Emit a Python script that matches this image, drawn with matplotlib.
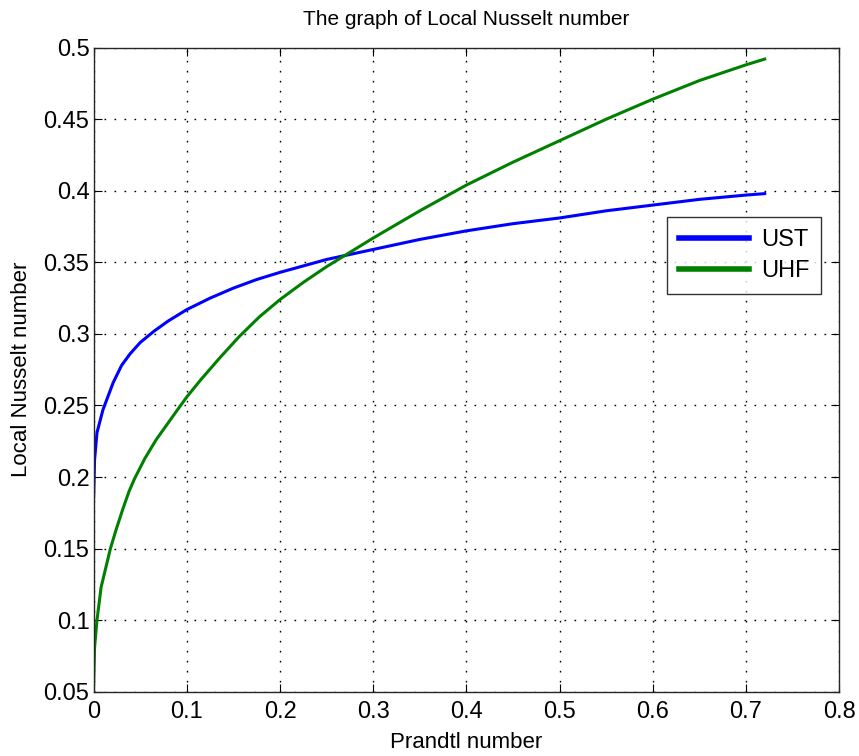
import matplotlib
matplotlib.use('Agg')
import matplotlib.pyplot as plt

plt.rcParams['font.family'] = ['Liberation Sans', 'DejaVu Sans']

# Prandtl number (x) and local Nusselt number
pr_ust = [0, 0.001, 0.0036, 0.01, 0.021, 0.03, 0.039, 0.05, 0.065, 0.08, 0.1, 0.125, 0.15, 0.175,
          0.2, 0.25, 0.3, 0.35, 0.4, 0.45, 0.5, 0.55, 0.6, 0.65, 0.7, 0.72]
nu_ust = [0.186, 0.212, 0.231, 0.247, 0.266, 0.278, 0.286, 0.294, 0.302, 0.309, 0.317, 0.325, 0.332, 0.338,
          0.343, 0.352, 0.359, 0.366, 0.372, 0.377, 0.381, 0.386, 0.39, 0.394, 0.397, 0.398]

pr_uhf = [0, 0.001, 0.0036, 0.008, 0.018, 0.024, 0.031, 0.038, 0.044, 0.055, 0.067, 0.09, 0.1, 0.115,
          0.135, 0.156, 0.178, 0.2, 0.225, 0.25, 0.3, 0.35, 0.4, 0.45, 0.5, 0.55, 0.6, 0.65, 0.7, 0.72]
nu_uhf = [0.055, 0.081, 0.1, 0.123, 0.15, 0.163, 0.177, 0.19, 0.199, 0.213, 0.226, 0.247, 0.256, 0.268,
          0.283, 0.298, 0.312, 0.324, 0.336, 0.347, 0.367, 0.386, 0.404, 0.42, 0.435, 0.45, 0.464, 0.477, 0.488, 0.492]

xticks = [0, 0.1, 0.2, 0.3, 0.4, 0.5, 0.6, 0.7, 0.8]
xtick_labels = ['0', '0.1', '0.2', '0.3', '0.4', '0.5', '0.6', '0.7', '0.8']
yticks = [0.05, 0.1, 0.15, 0.2, 0.25, 0.3, 0.35, 0.4, 0.45, 0.5]
ytick_labels = ['0.05', '0.1', '0.15', '0.2', '0.25', '0.3', '0.35', '0.4', '0.45', '0.5']

fig = plt.figure(figsize=(8.59, 7.56), dpi=100)
ax = fig.add_axes([0.109, 0.085, 0.868, 0.852])

ax.plot(pr_ust, nu_ust, color='#0000ff', lw=2.2, label='UST')
ax.plot(pr_uhf, nu_uhf, color='#008000', lw=2.2, label='UHF')

ax.set_xlim(0, 0.8)
ax.set_ylim(0.05, 0.5)
ax.set_xticks(xticks)
ax.set_xticklabels(xtick_labels)
ax.set_yticks(yticks)
ax.set_yticklabels(ytick_labels)
ax.tick_params(direction='in', length=6, width=0.8, top=True, right=True, labelsize=17, pad=3)
ax.tick_params(axis='x', pad=7)
ax.grid(True, color='black', linestyle=(0, (1.2, 6)), lw=1)
for s in ax.spines.values():
    s.set_color('#262626')
    s.set_linewidth(1)

ax.set_title('The graph of Local Nusselt number', fontsize=15, pad=16)
ax.set_xlabel('Prandtl number', fontsize=16, labelpad=6)
ax.set_ylabel('Local Nusselt number', fontsize=16, labelpad=8)

leg = ax.legend(loc='upper right', bbox_to_anchor=(0.992, 0.755), fontsize=17, frameon=True,
                fancybox=False, edgecolor='black', handlelength=3, borderpad=0.5,
                labelspacing=0.4, handletextpad=0.5)
leg.get_frame().set_linewidth(1)
for h in leg.legend_handles:
    h.set_linewidth(4)

fig.savefig('out.png', dpi=100)
